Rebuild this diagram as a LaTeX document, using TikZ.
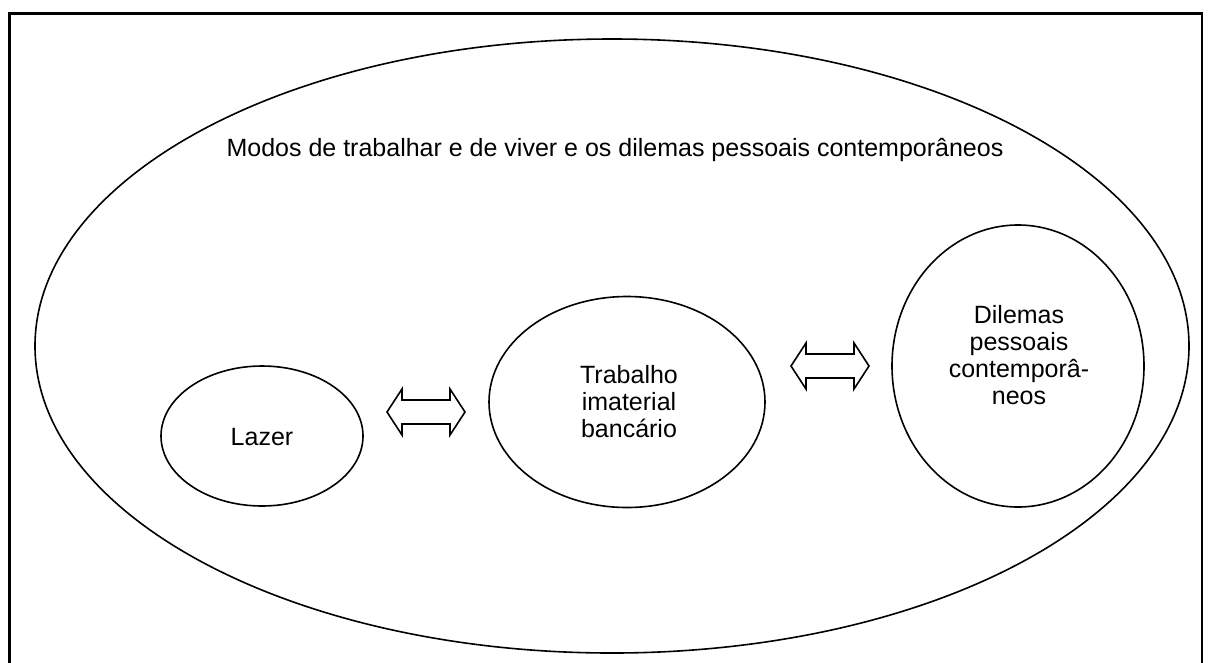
\documentclass[tikz,border=0pt]{standalone}
\usepackage{fontspec}
\setmainfont{Liberation Sans}
\usetikzlibrary{shapes.geometric}
\begin{document}
\begin{tikzpicture}[x=1pt,y=-1pt,
  line width=1.6pt,
  oval/.style={draw, ellipse, inner sep=0pt},
  lbl/.style={align=center, font=\fontsize{25}{27}\selectfont, inner sep=0pt},
  dblarrow/.pic={\draw[line width=1.6pt, line join=miter] (-39,0) -- (-24,-23) -- (-24,-12) -- (24,-12) -- (24,-23) -- (39,0) -- (24,23) -- (24,12) -- (-24,12) -- (-24,23) -- cycle;}
]
\useasboundingbox (0,0) rectangle (1212,662);
\draw[line width=2.6pt] (9.5,680) -- (9.5,13.5) -- (1202,13.5) -- (1202,680);
\node[oval, minimum width=1154pt, minimum height=614pt] (outer) at (612,346) {};
\node[lbl, anchor=base] (title) at (615,156) {Modos de trabalhar e de viver e os dilemas pessoais contemporâneos};
\node[oval, minimum width=202pt, minimum height=140pt] (lazer) at (262,436) {};
\node[lbl, anchor=base] (lazert) at (262,445) {Lazer};
\node[oval, minimum width=276pt, minimum height=211pt] (trab) at (627,402) {};
\node[lbl] (trabt) at (629,402) {Trabalho\\imaterial\\bancário};
\node[oval, minimum width=252pt, minimum height=282pt] (dil) at (1018,366) {};
\node[lbl] (dilt) at (1019,355) {Dilemas\\pessoais\\contemporâ-\\neos};
\pic at (426,412) {dblarrow};
\pic at (830,366) {dblarrow};
\end{tikzpicture}
\end{document}
